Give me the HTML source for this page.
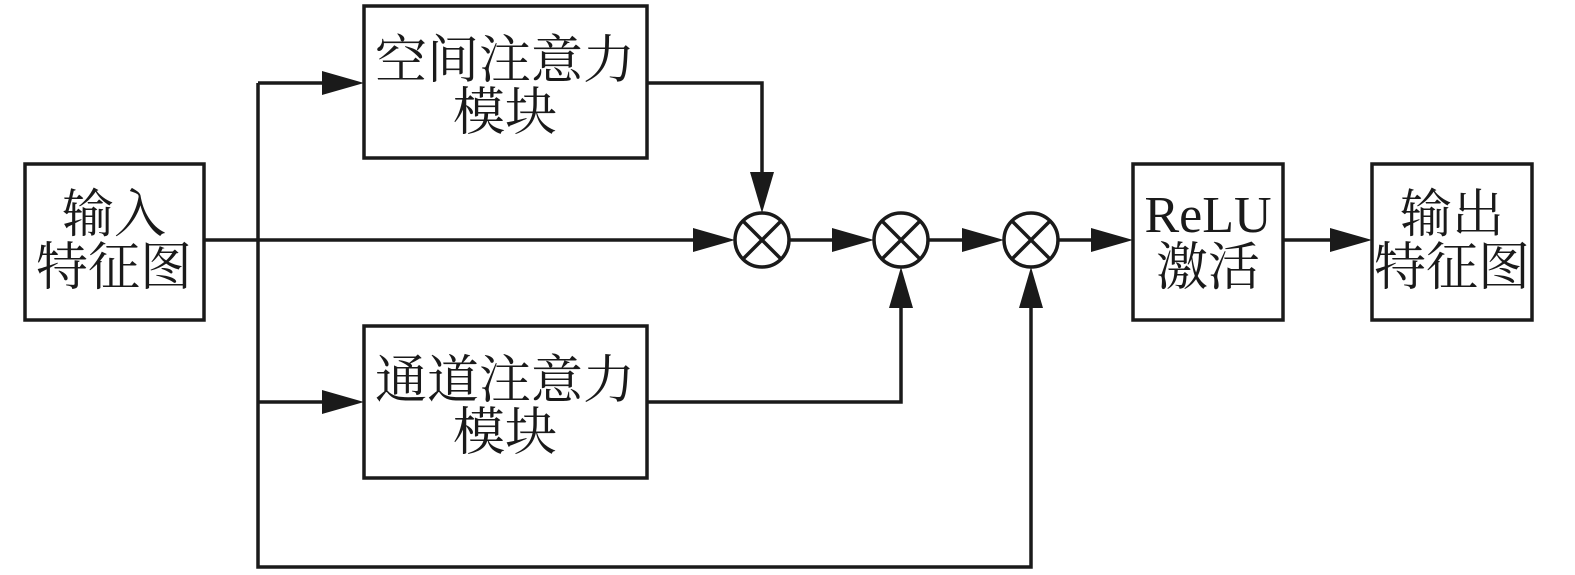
<!DOCTYPE html>
<html><head><meta charset="utf-8"><style>
html,body{margin:0;padding:0;background:#fff;}
svg{display:block;}
text{font-family:"Liberation Serif","Noto Serif CJK SC",serif;font-size:52px;fill:#1a1a1a;text-anchor:middle;}
</style></head><body>
<svg width="1575" height="575" viewBox="0 0 1575 575" xmlns="http://www.w3.org/2000/svg">
<g fill="none" stroke="#1a1a1a" stroke-width="3.5">
<rect x="25" y="164" width="179" height="156"/>
<rect x="364" y="6" width="283" height="152"/>
<rect x="364" y="326" width="283" height="152"/>
<rect x="1133" y="164" width="150" height="156"/>
<rect x="1372" y="164" width="160" height="156"/>
<circle cx="762" cy="240" r="27"/>
<circle cx="901" cy="240" r="27"/>
<circle cx="1031" cy="240" r="27"/>
<path d="M743 221 L781 259 M781 221 L743 259 M882 221 L920 259 M920 221 L882 259 M1012 221 L1050 259 M1050 221 L1012 259"/>
<path d="M204 240 H700"/>
<path d="M258 83 V567 H1031 V300"/>
<path d="M258 83 H330"/>
<path d="M258 402 H330"/>
<path d="M647 83 H762 V180"/>
<path d="M647 402 H901 V300"/>
<path d="M789 240 H840 M928 240 H970 M1058 240 H1100 M1283 240 H1340"/>
</g>
<g fill="#1a1a1a">
<polygon points="364,83 322,71 322,95"/>
<polygon points="364,402 322,390 322,414"/>
<polygon points="735,240 693,228 693,252"/>
<polygon points="874,240 832,228 832,252"/>
<polygon points="1004,240 962,228 962,252"/>
<polygon points="1133,240 1091,228 1091,252"/>
<polygon points="1372,240 1330,228 1330,252"/>
<polygon points="762,213 750,172 774,172"/>
<polygon points="901,267 889,308 913,308"/>
<polygon points="1031,267 1019,308 1043,308"/>
</g>
<text x="505" y="78">空间注意力</text>
<text x="505" y="130">模块</text>
<text x="505" y="398">通道注意力</text>
<text x="505" y="450">模块</text>
<text x="114" y="232">输入</text>
<text x="114" y="285">特征图</text>
<text x="1208" y="232">ReLU</text>
<text x="1208" y="285">激活</text>
<text x="1452" y="232">输出</text>
<text x="1452" y="285">特征图</text>
</svg>
</body></html>
